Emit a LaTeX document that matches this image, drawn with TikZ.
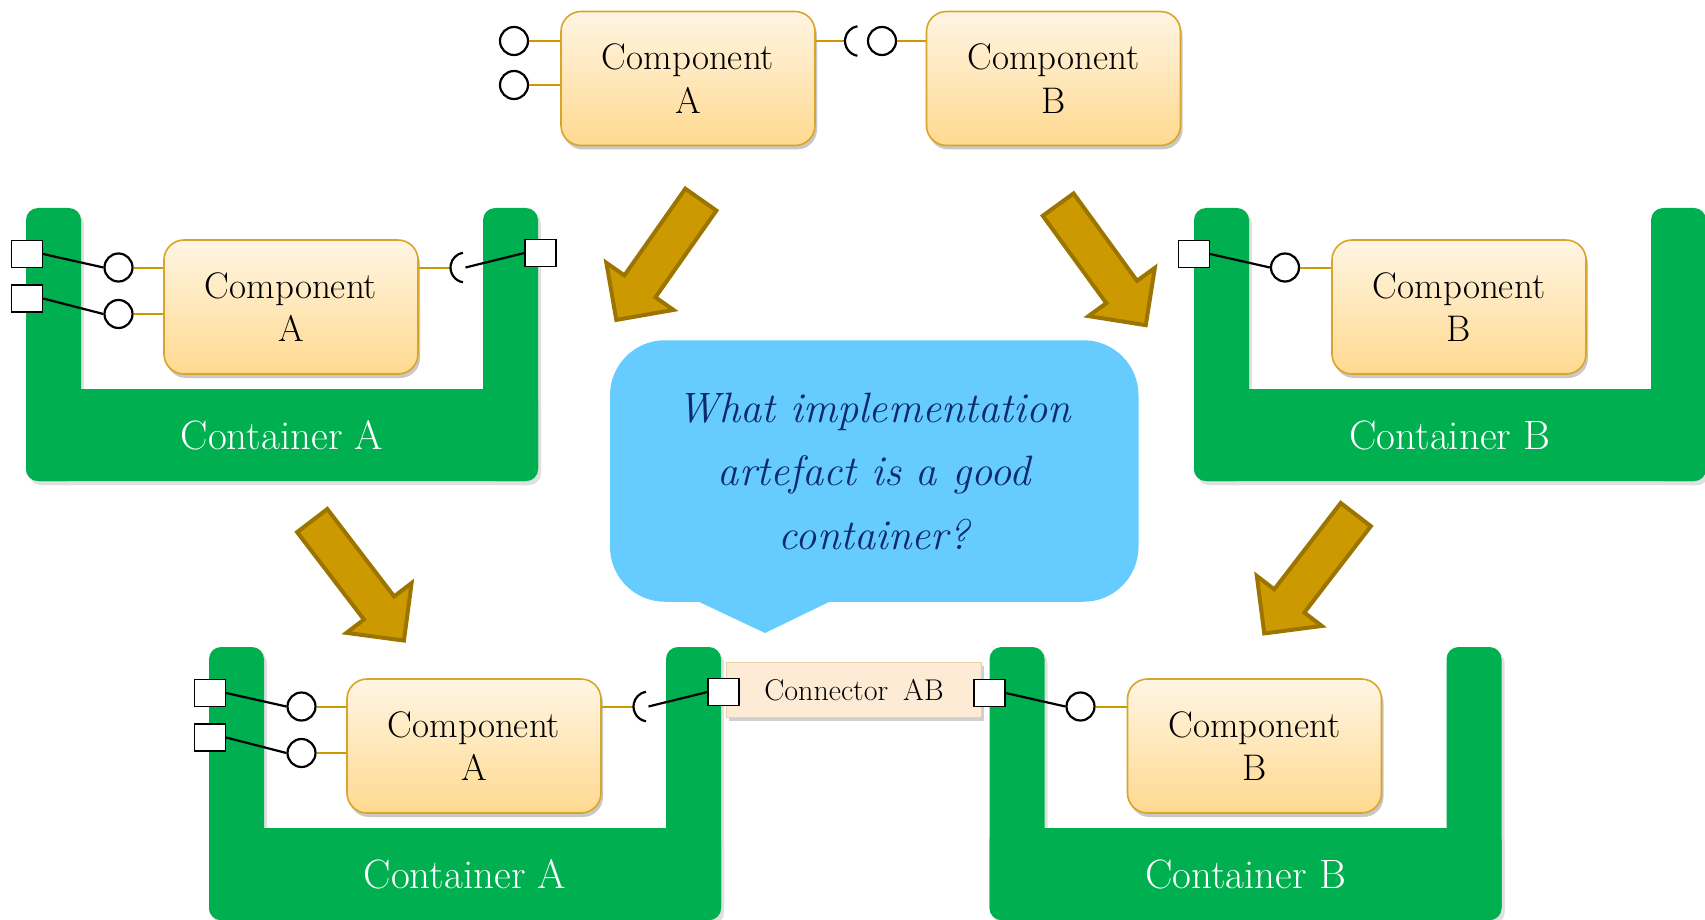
\documentclass[tikz,border=0pt]{standalone}
\usepackage{fontspec}
\usetikzlibrary{shapes.arrows,shadows,calc}
\definecolor{cgreen}{HTML}{00B050}
\definecolor{cgold}{HTML}{D9A528}
\definecolor{linkgold}{HTML}{CC9900}
\definecolor{compTop}{HTML}{FFF5E3}
\definecolor{compBot}{HTML}{FFD98F}
\definecolor{arrowfill}{HTML}{CC9900}
\definecolor{arrowdark}{HTML}{9C7500}
\definecolor{bubblecol}{HTML}{66CCFF}
\definecolor{navy}{HTML}{0E2A6B}
\definecolor{connfill}{HTML}{FDEBD6}
\definecolor{connline}{HTML}{EBCFA8}
\newcommand{\compfont}{\fontsize{37}{43.5}\selectfont}
\newcommand{\contfont}{\fontsize{41}{44}\selectfont}
\newcommand{\connfont}{\fontsize{30}{33}\selectfont}
\newcommand{\bubfont}{\itshape\fontsize{42.5}{63.5}\selectfont}
\tikzset{
  comp/.style={rectangle, rounded corners=20pt, draw=cgold, line width=1.6pt,
    top color=compTop, bottom color=compBot, minimum width=254pt, minimum height=134pt,
    align=center, font=\compfont, inner sep=0pt,
    drop shadow={shadow xshift=2pt, shadow yshift=-4pt, opacity=0.3, fill=black!70}},
  ball/.style={circle, draw=black, line width=2.2pt, fill=white, minimum size=28pt, inner sep=0pt},
  portsq/.style={rectangle, draw=black, line width=1.3pt, fill=white, minimum width=31pt, minimum height=27pt, inner sep=0pt},
  wire/.style={black, line width=2.2pt},
  glink/.style={linkgold, line width=2pt},
  sock/.style={black, line width=2.2pt},
  ctext/.style={text=white, font=\contfont, inner sep=0pt},
  connbox/.style={rectangle, fill=connfill, draw=connline, line width=1pt, minimum width=255pt,
    minimum height=55pt, font=\connfont, inner sep=0pt,
    drop shadow={shadow xshift=2pt, shadow yshift=-3pt, opacity=0.3, fill=black!60}},
  bubble/.style={rectangle, fill=bubblecol, rounded corners=55pt, minimum width=528.5pt,
    minimum height=261.5pt, text=navy, font=\bubfont, align=center},
  bigarrow/.style={single arrow, draw=arrowdark, fill=arrowfill, line width=4pt,
    inner xsep=0pt, inner ysep=17pt, single arrow head extend=22pt, single arrow tip angle=90,
    single arrow head indent=0pt, anchor=tail},
}
\newcommand{\greenU}{%
  \fill[black!12, rounded corners=12pt] (3,4) rectangle (58,277);
  \fill[black!12, rounded corners=12pt] (460,4) rectangle (515,277);
  \fill[black!12, rounded corners=12pt] (3,185) rectangle (515,277);
  \fill[cgreen, rounded corners=12pt] (0,0) rectangle (55,273);
  \fill[cgreen, rounded corners=12pt] (457,0) rectangle (512,273);
  \fill[cgreen, rounded corners=12pt] (0,181) rectangle (512,273);}
\newcommand{\ctnrA}[3]{%
\begin{scope}[shift={(#2,#3)}, name prefix=#1-]
 \greenU
 \node[ctext] (lbl) at (256,227) {Container A};
 \node[comp] (comp) at (265,99) {Component\\A};
 \node[portsq] (p1) at (1,46) {};
 \node[portsq] (p2) at (1,90.5) {};
 \node[ball] (b1) at (92.5,59.5) {};
 \node[ball] (b2) at (92.5,106) {};
 \coordinate (sk) at (439.5,59.5);
 \node[portsq] (p3) at (514.5,45) {};
 \draw[wire] (p1.east) -- (b1.west);
 \draw[wire] (p2.east) -- (b2.west);
 \draw[glink] (b1.east) -- (b1.east -| comp.west);
 \draw[glink] (b2.east) -- (b2.east -| comp.west);
 \draw[glink] (comp.east |- sk) -- ([xshift=-15pt]sk);
 \draw[sock] ([shift={(100:15)}]sk) arc[start angle=100, end angle=260, radius=15];
 \draw[wire] (sk) -- (p3.west);
\end{scope}}
\newcommand{\ctnrB}[3]{%
\begin{scope}[shift={(#2,#3)}, name prefix=#1-]
 \greenU
 \node[ctext] (lbl) at (256,227) {Container B};
 \node[comp] (comp) at (265,99) {Component\\B};
 \node[portsq] (p1) at (0,46) {};
 \node[ball] (b1) at (91,59.5) {};
 \draw[wire] (p1.east) -- (b1.west);
 \draw[glink] (b1.east) -- (b1.east -| comp.west);
\end{scope}}
\begin{document}
\begin{tikzpicture}[x=1pt,y=-1pt]
\useasboundingbox (0,0) rectangle (1705,920);
\fill[white] (0,0) rectangle (1705,920);
% top row
\node[comp] (tA) at (688,78.5) {Component\\A};
\node[comp] (tB) at (1053.5,78.5) {Component\\B};
\node[ball] (tb1) at (514,41) {};
\node[ball] (tb2) at (514,85) {};
\draw[glink] (tb1.east) -- (tb1.east -| tA.west);
\draw[glink] (tb2.east) -- (tb2.east -| tA.west);
\coordinate (tsk) at (860,41);
\node[ball] (tb3) at (882,41) {};
\draw[glink] (tA.east |- tsk) -- ([xshift=-15pt]tsk);
\draw[sock] ([shift={(100:15)}]tsk) arc[start angle=100, end angle=260, radius=15];
\draw[glink] (tb3.east) -- (tb3.east -| tB.west);
% connector
\node[connbox] (cab) at (854,690) {Connector\hspace{0.5em}AB};
% containers
\ctnrA{tcA}{26}{208}
\ctnrB{tcB}{1194}{208}
\ctnrA{bcA}{209}{647}
\ctnrB{bcB}{989.5}{647}
% bubble
\node[bubble] (q) at (874.25,471) {What implementation\\artefact is a good\\container?};
\coordinate (qtip) at (765,633);
\fill[bubblecol] ([xshift=-177.25pt,yshift=1pt]q.south) -- (qtip) -- ([xshift=-43.25pt,yshift=1pt]q.south) -- cycle;
% arrows
\node[bigarrow, rotate=234.9, minimum height=147pt] (ar1) at (702,198) {};
\node[bigarrow, rotate=306, minimum height=149pt] (ar2) at (1057,203) {};
\node[bigarrow, rotate=307.4, minimum height=151pt] (ar3) at (311,519) {};
\node[bigarrow, rotate=232.4, minimum height=150pt] (ar4) at (1357,513) {};
\end{tikzpicture}
\end{document}
